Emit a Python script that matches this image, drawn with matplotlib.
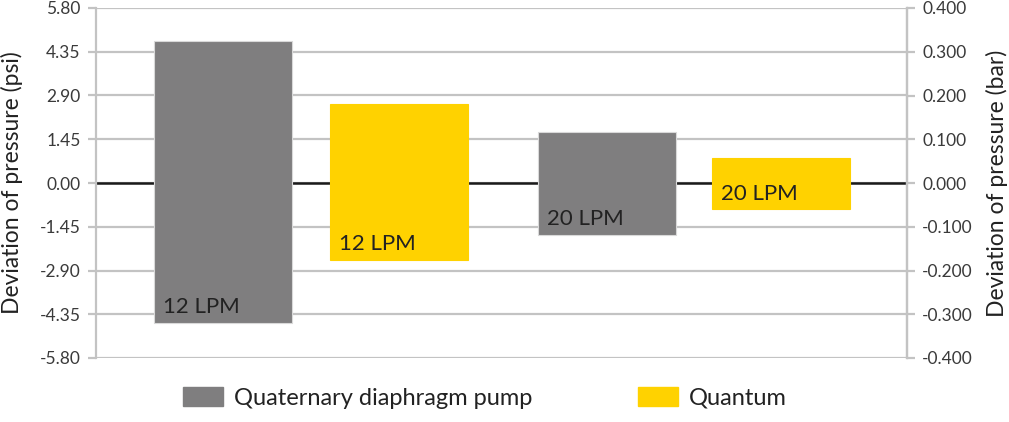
import matplotlib
matplotlib.use("Agg")
import matplotlib.pyplot as plt
import matplotlib.patches as mpatches

# floating bars: deviation range in psi
labels = ["12 LPM", "12 LPM", "20 LPM", "20 LPM"]
series = ["Quaternary diaphragm pump", "Quantum", "Quaternary diaphragm pump", "Quantum"]
high_psi = [4.71, 2.62, 1.69, 0.84]
low_psi = [-4.64, -2.54, -1.71, -0.87]
psi_ticks = [-5.80, -4.35, -2.90, -1.45, 0.00, 1.45, 2.90, 4.35, 5.80]
bar_ticks = [-0.400, -0.300, -0.200, -0.100, 0.000, 0.100, 0.200, 0.300, 0.400]

colors = {"Quaternary diaphragm pump": "#7f7e7f", "Quantum": "#ffd200"}
text_col = "#3a3a3a"
grid_col = "#c3c3c3"

plt.rcParams['font.family'] = ['Lato', 'DejaVu Sans']

fig = plt.figure(figsize=(10.09, 4.22), dpi=100)
ax = fig.add_axes([96 / 1009, 1 - 358 / 422, 811 / 1009, 350 / 422])

# bar centres in axis units (plot width = 811)
x_pos = [127, 303, 510.5, 685]
bar_w = 138

for x, lo, hi, s, lab in zip(x_pos, low_psi, high_psi, series, labels):
    ax.bar(x, hi - lo, bottom=lo, width=bar_w, color=colors[s],
           edgecolor="#d9d9d9" if s != "Quantum" else colors[s], linewidth=0.8, zorder=3)
    ax.annotate(lab, xy=(x - bar_w / 2, lo), xytext=(6.5, 7), textcoords="offset points",
                ha="left", va="baseline", fontsize=16, color="#222222", zorder=4)

ax.set_xlim(0, 811)
ax.set_ylim(-5.8, 5.8)
ax.set_yticks(psi_ticks)
ax.set_yticklabels([f"{t:.2f}" for t in psi_ticks])
ax.set_xticks([])
ax.grid(axis="y", color=grid_col, linewidth=1.6, zorder=0)
ax.axhline(0, color="#1a1a1a", linewidth=1.8, zorder=2)

for sp in ["top", "bottom"]:
    ax.spines[sp].set_visible(False)
for sp in ["left", "right"]:
    ax.spines[sp].set_color(grid_col)
    ax.spines[sp].set_linewidth(1.6)
ax.tick_params(axis="y", length=6, width=1.6, color=grid_col, labelsize=12.5,
               labelcolor=text_col, pad=5)
ax.set_ylabel("Deviation of pressure (psi)", fontsize=16.5, color="#222222")
ax.yaxis.label.set_verticalalignment("center")
ax.yaxis.set_label_coords((12 - 96) / 811, 0.5)

ax2 = ax.twinx()
ax2.set_ylim(-0.4, 0.4)
ax2.set_yticks(bar_ticks)
ax2.set_yticklabels([f"{t:.3f}" for t in bar_ticks])
for sp in ["top", "bottom", "left"]:
    ax2.spines[sp].set_visible(False)
ax2.spines["right"].set_color(grid_col)
ax2.spines["right"].set_linewidth(1.6)
ax2.tick_params(axis="y", length=6, width=1.6, color=grid_col, labelsize=12.5,
                labelcolor=text_col, pad=5)
ax2.set_ylabel("Deviation of pressure (bar)", fontsize=16.5, color="#222222")
ax2.yaxis.label.set_verticalalignment("center")
ax2.yaxis.set_label_coords((997 - 96) / 811, 0.5)

handles = [mpatches.Patch(color=colors[k], label=k) for k in ["Quaternary diaphragm pump", "Quantum"]]
fig.legend(handles=handles, loc="center left", bbox_to_anchor=(183 / 1009, 1 - 398 / 422),
           ncol=2, frameon=False, fontsize=17, handlelength=1.7, handleheight=0.85,
           handletextpad=0.47, columnspacing=4.45, borderpad=0, borderaxespad=0,
           labelcolor="#222222")

fig.savefig("out.png", dpi=100)
